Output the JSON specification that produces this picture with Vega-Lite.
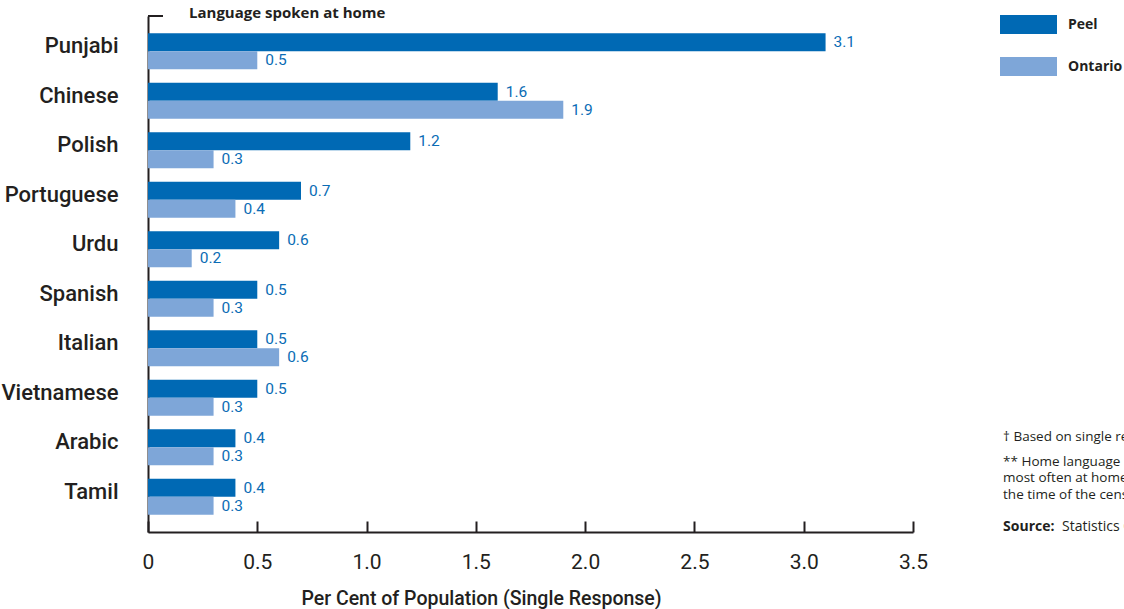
{
  "$schema": "https://vega.github.io/schema/vega-lite/v6.json",
  "width": 765,
  "height": 516,
  "autosize": "none",
  "padding": {"left": 148, "top": 16, "right": 211, "bottom": 77},
  "background": "white",
  "config": {
    "view": {"stroke": null},
    "font": "Open Sans",
    "title": {"font": "Open Sans", "fontSize": 15, "fontWeight": "bold", "color": "#231f20"}
  },
  "title": {
    "text": "Language spoken at home",
    "anchor": "start",
    "frame": "group",
    "dx": 41,
    "offset": -6
  },
  "data": {
    "values": [
      {"lang": "Punjabi", "series": "Peel", "pct": 3.1},
      {"lang": "Punjabi", "series": "Ontario", "pct": 0.5},
      {"lang": "Chinese", "series": "Peel", "pct": 1.6},
      {"lang": "Chinese", "series": "Ontario", "pct": 1.9},
      {"lang": "Polish", "series": "Peel", "pct": 1.2},
      {"lang": "Polish", "series": "Ontario", "pct": 0.3},
      {"lang": "Portuguese", "series": "Peel", "pct": 0.7},
      {"lang": "Portuguese", "series": "Ontario", "pct": 0.4},
      {"lang": "Urdu", "series": "Peel", "pct": 0.6},
      {"lang": "Urdu", "series": "Ontario", "pct": 0.2},
      {"lang": "Spanish", "series": "Peel", "pct": 0.5},
      {"lang": "Spanish", "series": "Ontario", "pct": 0.3},
      {"lang": "Italian", "series": "Peel", "pct": 0.5},
      {"lang": "Italian", "series": "Ontario", "pct": 0.6},
      {"lang": "Vietnamese", "series": "Peel", "pct": 0.5},
      {"lang": "Vietnamese", "series": "Ontario", "pct": 0.3},
      {"lang": "Arabic", "series": "Peel", "pct": 0.4},
      {"lang": "Arabic", "series": "Ontario", "pct": 0.3},
      {"lang": "Tamil", "series": "Peel", "pct": 0.4},
      {"lang": "Tamil", "series": "Ontario", "pct": 0.3}
    ]
  },
  "layer": [
    {
      "encoding": {
        "y": {
          "field": "lang",
          "type": "nominal",
          "sort": null,
          "scale": {"paddingInner": 0.274, "paddingOuter": 0.35},
          "axis": {
            "title": null,
            "ticks": false,
            "domainWidth": 2,
            "domainColor": "#231f20",
            "labelFont": "Roboto",
            "labelFontSize": 22,
            "labelFontWeight": 500,
            "labelColor": "#231f20",
            "labelPadding": 30,
            "labelOffset": -5
          }
        },
        "yOffset": {"field": "series", "type": "nominal", "sort": ["Peel", "Ontario"], "scale": {"paddingInner": 0, "paddingOuter": 0}},
        "x": {
          "field": "pct",
          "type": "quantitative",
          "scale": {"domain": [0, 3.5], "nice": false, "zero": true},
          "axis": {
            "title": "Per Cent of Population (Single Response)",
            "values": [0, 0.5, 1, 1.5, 2, 2.5, 3, 3.5],
            "labelExpr": "datum.value == 0 ? '0' : format(datum.value, '.1f')",
            "grid": false,
            "domainWidth": 2,
            "domainColor": "#231f20",
            "tickWidth": 2,
            "tickColor": "#231f20",
            "tickSize": -11,
            "labelFont": "Roboto",
            "labelFontSize": 21,
            "labelColor": "#231f20",
            "labelPadding": 30,
            "labelFlush": false,
            "titleFont": "Roboto",
            "titleFontSize": 19.5,
            "titleFontWeight": 500,
            "titleColor": "#231f20",
            "titleX": 333,
            "titleY": 72,
            "titleBaseline": "alphabetic"
          }
        }
      },
      "layer": [
        {
          "mark": {"type": "bar"},
          "encoding": {
            "color": {
              "field": "series",
              "type": "nominal",
              "scale": {"domain": ["Peel", "Ontario"], "range": ["#0069b4", "#7ea6d8"]},
              "legend": {
                "title": null,
                "orient": "none",
                "legendX": 871,
                "legendY": -1,
                "direction": "vertical",
                "symbolType": "M-3,-1H3V1H-3Z",
                "symbolSize": 361,
                "symbolStrokeWidth": 0,
                "symbolOpacity": 1,
                "labelFont": "Open Sans",
                "labelFontSize": 14,
                "labelFontWeight": "bold",
                "labelColor": "#231f20",
                "labelOffset": 30,
                "rowPadding": 23
              }
            }
          }
        },
        {
          "mark": {"type": "text", "align": "left", "baseline": "middle", "dx": 8, "fontSize": 15.5, "color": "#0a6cb5", "font": "Roboto"},
          "encoding": {"text": {"field": "pct", "type": "quantitative", "format": ".1f"}}
        }
      ]
    },
    {
      "data": {"values": [{"mark": "axis cap"}]},
      "mark": {"type": "rule", "strokeWidth": 2, "color": "#231f20"},
      "encoding": {
        "x": {"datum": 0, "type": "quantitative"},
        "x2": {"datum": 0.0686},
        "y": {"datum": 1, "type": "quantitative", "scale": {"domain": [0, 1]}, "axis": null}
      }
    },
    {
      "data": {"values": [{"note": "† Based on single responses"}]},
      "mark": {"type": "text", "align": "left", "baseline": "middle", "fontSize": 13.5, "color": "#231f20", "font": "Open Sans"},
      "encoding": {
        "x": {"datum": 3.912, "type": "quantitative"},
        "y": {"datum": 0.184, "type": "quantitative", "scale": {"domain": [0, 1]}, "axis": null},
        "text": {"field": "note"}
      }
    },
    {
      "data": {"values": [{"note": "** Home language refers to the language spoken\nmost often at home by the individual at\nthe time of the census."}]},
      "mark": {"type": "text", "align": "left", "baseline": "line-top", "lineHeight": 16.5, "lineBreak": "\n", "fontSize": 13.5, "color": "#231f20", "font": "Open Sans"},
      "encoding": {
        "x": {"datum": 3.912, "type": "quantitative"},
        "y": {"datum": 0.1512, "type": "quantitative", "scale": {"domain": [0, 1]}, "axis": null},
        "text": {"field": "note"}
      }
    },
    {
      "data": {"values": [{"note": "Source:"}]},
      "mark": {"type": "text", "align": "left", "baseline": "middle", "fontSize": 14, "fontWeight": "bold", "color": "#231f20", "font": "Open Sans"},
      "encoding": {
        "x": {"datum": 3.912, "type": "quantitative"},
        "y": {"datum": 0.0097, "type": "quantitative", "scale": {"domain": [0, 1]}, "axis": null},
        "text": {"field": "note"}
      }
    },
    {
      "data": {"values": [{"note": "Statistics Canada, 2006 Census"}]},
      "mark": {"type": "text", "align": "left", "baseline": "middle", "fontSize": 14, "color": "#231f20", "font": "Open Sans"},
      "encoding": {
        "x": {"datum": 4.182, "type": "quantitative"},
        "y": {"datum": 0.0097, "type": "quantitative", "scale": {"domain": [0, 1]}, "axis": null},
        "text": {"field": "note"}
      }
    }
  ],
  "resolve": {"scale": {"y": "independent"}, "axis": {"y": "independent"}}
}
